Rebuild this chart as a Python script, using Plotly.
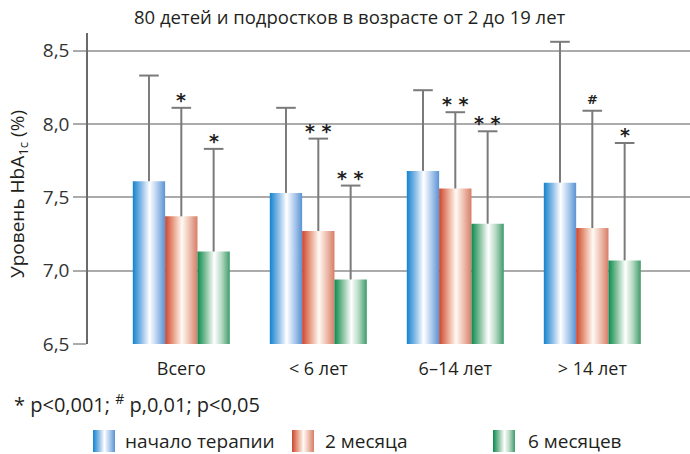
import plotly.graph_objects as go

# HbA1c (%) by age group: baseline, after 2 months, after 6 months
categories = ["Всего", "< 6 лет", "6–14 лет", "> 14 лет"]
series_names = ["начало терапии", "2 месяца", "6 месяцев"]
baseline = [7.61, 7.53, 7.68, 7.60]
month2 = [7.37, 7.27, 7.56, 7.29]
month6 = [7.13, 6.94, 7.32, 7.07]
sd_baseline = [0.72, 0.58, 0.55, 0.96]
sd_month2 = [0.74, 0.63, 0.52, 0.80]
sd_month6 = [0.70, 0.64, 0.63, 0.80]
marks_baseline = ["", "", "", ""]
marks_month2 = ["*", "* *", "* *", "#"]
marks_month6 = ["*", "* *", "* *", "*"]

values = [baseline, month2, month6]
sds = [sd_baseline, sd_month2, sd_month6]
marks = [marks_baseline, marks_month2, marks_month6]

W, H = 690, 454
FONT = "Open Sans"
TEXT = "#231f20"
ERR = "#7a7a7a"

gradients = [
    [[0, "#1383cf"], [0.28, "#90bfe8"], [0.52, "#ffffff"], [0.75, "#b2cdee"], [1, "#5a93d4"]],
    [[0, "#cc4630"], [0.28, "#eba890"], [0.52, "#fffaf5"], [0.75, "#eec0b0"], [1, "#d67e68"]],
    [[0, "#0b8a4e"], [0.28, "#8fc6a5"], [0.52, "#ffffff"], [0.75, "#b5d9c2"], [1, "#3f9b6c"]],
]

y_min, y_max = 6.5, 8.62
bar_w = 0.236
x_pos = list(range(len(categories)))

fig = go.Figure()

for j, (vals, sd, mk) in enumerate(zip(values, sds, marks)):
    off = (j - 1) * bar_w
    for i, v in enumerate(vals):
        x0 = x_pos[i] + off - bar_w / 2
        x1 = x0 + bar_w
        fig.add_trace(go.Scatter(
            x=[x0, x1, x1, x0, x0], y=[y_min, y_min, v, v, y_min],
            mode="lines", line=dict(width=0), fill="toself",
            fillgradient=dict(type="horizontal", colorscale=gradients[j]),
            hoverinfo="skip", showlegend=False,
        ))
    centers = [x + off for x in x_pos]
    tops = [v + s for v, s in zip(vals, sd)]
    # upper whisker (no caps), then a cap marker at its end
    fig.add_trace(go.Scatter(
        x=centers, y=vals, mode="markers",
        marker=dict(size=1, color="rgba(0,0,0,0)"),
        error_y=dict(type="data", symmetric=False, array=sd,
                     arrayminus=[0] * len(sd), color=ERR,
                     thickness=2, width=0),
        showlegend=False, hoverinfo="skip",
    ))
    fig.add_trace(go.Scatter(
        x=centers, y=tops, mode="markers",
        marker=dict(symbol="line-ew", size=14,
                    line=dict(width=2, color=ERR)),
        showlegend=False, hoverinfo="skip",
    ))
    for c, t, m in zip(centers, tops, mk):
        if m:
            fig.add_annotation(
                x=c, y=t, text=m, showarrow=False, yanchor="bottom",
                yshift=-5 if m != "#" else 2,
                font=dict(family="DejaVu Sans", size=19 if m != "#" else 13,
                          color=TEXT, weight="bold"),
            )

# legend swatches drawn on a pixel-space axis covering the whole figure
legend_x = [93, 292, 493]
legend_text_x = [123, 323, 526]
sw_w, sw_top, sw_bot = 22, 430, 452
for j, name in enumerate(series_names):
    x0 = legend_x[j]
    fig.add_trace(go.Scatter(
        x=[x0, x0 + sw_w, x0 + sw_w, x0, x0],
        y=[sw_bot, sw_bot, sw_top, sw_top, sw_bot],
        xaxis="x2", yaxis="y2", mode="lines", line=dict(width=0),
        fill="toself",
        fillgradient=dict(type="horizontal", colorscale=gradients[j]),
        hoverinfo="skip", showlegend=False,
    ))
    fig.add_annotation(
        xref="x2", yref="y2", x=legend_text_x[j], y=441, text=name,
        showarrow=False, xanchor="left", yanchor="middle",
        font=dict(family=FONT, size=19, color=TEXT),
    )

plot_l, plot_t, plot_b = 88, 33, 344

fig.update_layout(
    width=W, height=H,
    margin=dict(l=0, r=0, t=0, b=0, autoexpand=False),
    paper_bgcolor="white", plot_bgcolor="rgba(0,0,0,0)",
    showlegend=False,
    font=dict(family=FONT, color=TEXT),
    xaxis=dict(
        domain=[plot_l / W, 1], range=[-0.681, 3.713], automargin=False,
        tickmode="array", tickvals=x_pos, ticktext=categories,
        showgrid=False, zeroline=False, showline=False,
        ticks="outside", ticklen=8, tickcolor="rgba(0,0,0,0)",
        tickfont=dict(size=18, color=TEXT, family=FONT),
    ),
    yaxis=dict(
        domain=[1 - plot_b / H, 1 - plot_t / H], range=[y_min, y_max],
        automargin=False,
        tickmode="array", tickvals=[6.5, 7.0, 7.5, 8.0, 8.5],
        ticktext=["6,5", "7,0", "7,5", "8,0", "8,5"],
        showgrid=True, gridcolor="#ababab", gridwidth=1.5,
        zeroline=False, showline=True, linecolor="#6a6a6a", linewidth=1.5,
        ticks="outside", ticklen=13, tickcolor="#ababab", tickwidth=1.5,
        tickfont=dict(size=19, color="#333333", family=FONT),
    ),
    xaxis2=dict(domain=[0, 1], range=[0, W], visible=False, anchor="y2",
                fixedrange=True, automargin=False),
    yaxis2=dict(domain=[0, 1], range=[H, 0], visible=False, anchor="x2",
                fixedrange=True, automargin=False),
)

fig.add_annotation(
    xref="paper", yref="paper", x=350 / W, y=1 - 17 / H,
    text="80 детей и подростков в возрасте от 2 до 19 лет",
    showarrow=False, xanchor="center", yanchor="middle",
    font=dict(family=FONT, size=18.5, color=TEXT),
)
fig.add_annotation(
    xref="paper", yref="paper", x=18 / W, y=1 - 194 / H,
    text="Уровень HbA<sub>1c</sub> (%)", textangle=-90,
    showarrow=False, xanchor="center", yanchor="middle",
    font=dict(family=FONT, size=19, color=TEXT),
)
fig.add_annotation(
    xref="paper", yref="paper", x=12 / W, y=1 - 403 / H,
    text="* p<0,001; <sup>#</sup> p,0,01; p<0,05",
    showarrow=False, xanchor="left", yanchor="middle",
    font=dict(family=FONT, size=20, color=TEXT),
)

fig.write_html("out.html")
